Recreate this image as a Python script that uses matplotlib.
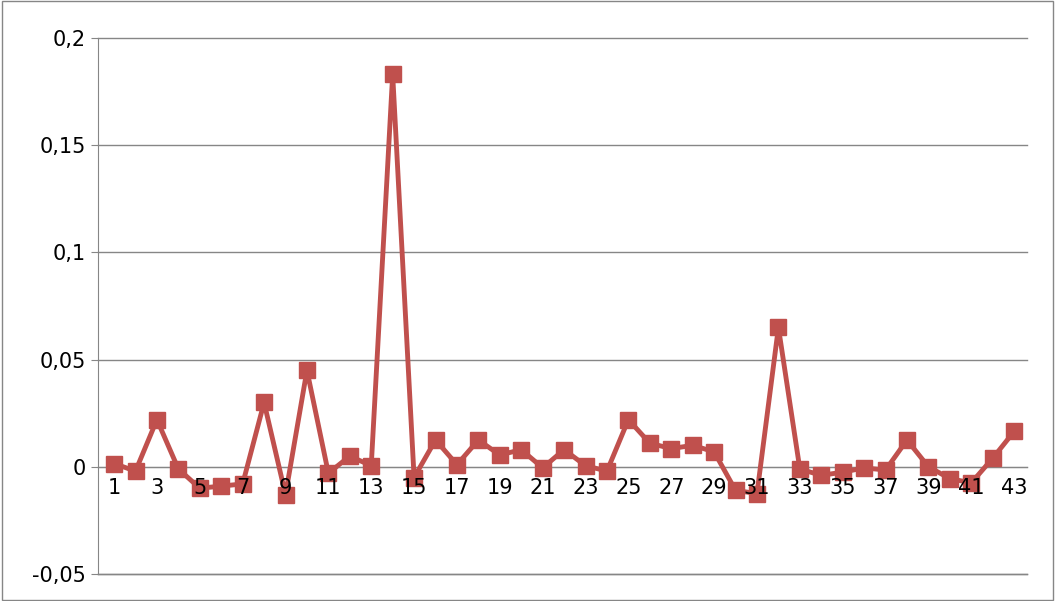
import matplotlib.pyplot as plt
from matplotlib.ticker import FuncFormatter

x = list(range(1, 44))
y = [0.0015, -0.002, 0.022, -0.001, -0.010, -0.009, -0.008, 0.030, -0.013, 0.045,
     -0.003, 0.005, 0.0005, 0.183, -0.005, 0.0125, 0.001, 0.0125, 0.0055, 0.008,
     -0.0005, 0.008, 0.0005, -0.002, 0.022, 0.011, 0.0085, 0.010, 0.007, -0.011,
     -0.0125, 0.065, -0.001, -0.004, -0.0025, -0.0005, -0.0015, 0.0125, 0.0, -0.0055,
     -0.0075, 0.004, 0.0165]
yticks = [-0.05, 0, 0.05, 0.1, 0.15, 0.2]

fig = plt.figure(figsize=(10.55, 6.01), dpi=100)
ax = fig.add_axes([98/1055, 27/601, 929/1055, 536/601])
ax.plot(x, y, color='#c0504d', lw=3.5, marker='s', ms=11, zorder=3, clip_on=False)

ax.set_xlim(0.25, 43.6)
ax.set_ylim(-0.05, 0.2)
ax.set_yticks(yticks)
ax.yaxis.set_major_formatter(FuncFormatter(lambda v, p: ('%g' % round(v, 2)).replace('.', ',')))
ax.set_xticks(x[::2])
ax.grid(axis='y', color='#868686', lw=1, clip_on=False)
ax.xaxis.set_zorder(5)
for s in ['top', 'right']:
    ax.spines[s].set_visible(False)
ax.spines['bottom'].set_position(('data', 0))
ax.spines['bottom'].set_color('#868686')
ax.spines['left'].set_color('#868686')
ax.tick_params(axis='both', labelsize=15, color='#868686', length=5)
ax.tick_params(axis='x', length=0, pad=8)
ax.axhline(-0.05, color='#868686', lw=1, clip_on=False)

fig.patches.append(plt.Rectangle((0.002, 0.002), 0.996, 0.996, transform=fig.transFigure,
                                 fill=False, ec='#868686', lw=1))
fig.savefig('out.png', dpi=100)
